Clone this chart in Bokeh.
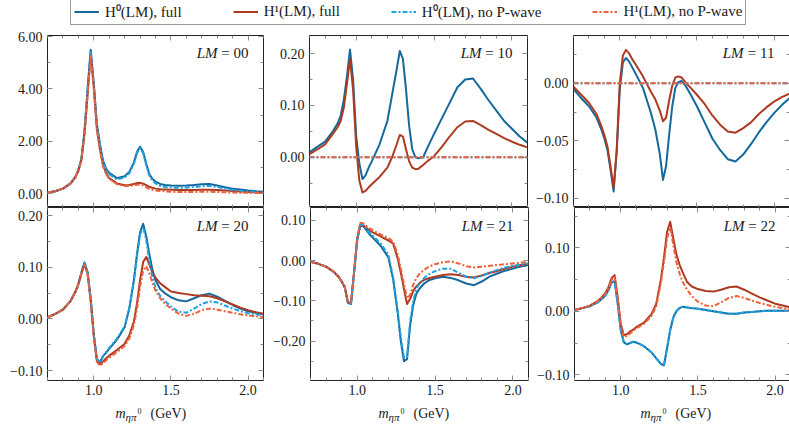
from bokeh.plotting import figure
from bokeh.models import (Range1d, SingleIntervalTicker, LinearAxis,
                          CustomJSTickFormatter, CustomLabelingPolicy,
                          Label, Legend, LegendItem)
from bokeh.layouts import column, row
from bokeh.embed import file_html
from bokeh.resources import INLINE

# ---------------- data ----------------
mass = [0.70, 0.75, 0.80, 0.85, 0.88, 0.90, 0.92, 0.94, 0.96, 0.98,
        1.00, 1.02, 1.04, 1.06, 1.08, 1.10, 1.15, 1.20, 1.23, 1.26,
        1.28, 1.30, 1.32, 1.34, 1.36, 1.38, 1.40, 1.43, 1.46, 1.50,
        1.55, 1.60, 1.65, 1.70, 1.75, 1.80, 1.85, 1.90, 1.95, 2.00,
        2.05, 2.10]

legend_labels = ["H\u2070(LM), full", "H\u00b9(LM), full",
                 "H\u2070(LM), no P-wave", "H\u00b9(LM), no P-wave"]
panel_names = ["00", "10", "11", "20", "21", "22"]
xlabel_parts = ["m", "\u03b7\u03c0", "0", "(GeV)"]

# LM = 00
h0_full_00 = [0.05, 0.10, 0.20, 0.40, 0.65, 0.90, 1.35, 2.40, 4.00, 5.50,
              4.20, 2.67, 1.90, 1.27, 0.95, 0.80, 0.60, 0.67, 0.83, 1.20,
              1.60, 1.80, 1.60, 1.15, 0.76, 0.57, 0.47, 0.38, 0.34, 0.32,
              0.31, 0.32, 0.34, 0.37, 0.38, 0.32, 0.25, 0.20, 0.17, 0.13,
              0.10, 0.08]
h1_full_00 = [0.05, 0.10, 0.20, 0.40, 0.63, 0.88, 1.30, 2.30, 3.80, 5.35,
              4.10, 2.50, 1.70, 1.10, 0.80, 0.60, 0.40, 0.33, 0.34, 0.38,
              0.41, 0.42, 0.39, 0.33, 0.27, 0.23, 0.20, 0.18, 0.17, 0.16,
              0.15, 0.15, 0.15, 0.16, 0.16, 0.15, 0.13, 0.11, 0.09, 0.07,
              0.06, 0.05]
h0_nop_00 = [0.05, 0.10, 0.20, 0.40, 0.65, 0.90, 1.35, 2.40, 4.00, 5.45,
             4.15, 2.62, 1.85, 1.22, 0.90, 0.75, 0.55, 0.62, 0.78, 1.15,
             1.55, 1.75, 1.55, 1.10, 0.70, 0.50, 0.40, 0.30, 0.26, 0.24,
             0.23, 0.24, 0.26, 0.29, 0.30, 0.26, 0.20, 0.15, 0.12, 0.09,
             0.07, 0.05]
h1_nop_00 = [0.05, 0.10, 0.20, 0.40, 0.63, 0.88, 1.30, 2.30, 3.80, 5.25,
             4.00, 2.45, 1.65, 1.05, 0.76, 0.57, 0.37, 0.30, 0.30, 0.33,
             0.35, 0.36, 0.32, 0.25, 0.19, 0.15, 0.13, 0.11, 0.10, 0.08,
             0.07, 0.07, 0.07, 0.08, 0.08, 0.07, 0.06, 0.05, 0.04, 0.04,
             0.03, 0.03]

# LM = 10
h0_full_10 = [0.010, 0.020, 0.030, 0.050, 0.065, 0.080, 0.110, 0.155, 0.208, 0.150,
              0.040, -0.012, -0.042, -0.035, -0.020, -0.008, 0.025, 0.070, 0.120, 0.170,
              0.205, 0.190, 0.130, 0.060, 0.015, 0.000, -0.002, 0.000, 0.020, 0.045,
              0.075, 0.105, 0.135, 0.150, 0.152, 0.132, 0.110, 0.090, 0.070, 0.055,
              0.040, 0.028]
h1_full_10 = [0.006, 0.015, 0.025, 0.045, 0.058, 0.070, 0.095, 0.140, 0.190, 0.130,
              0.020, -0.045, -0.068, -0.065, -0.058, -0.052, -0.038, -0.020, 0.000, 0.025,
              0.043, 0.040, 0.015, -0.008, -0.020, -0.023, -0.022, -0.015, -0.007, 0.002,
              0.020, 0.040, 0.058, 0.069, 0.070, 0.062, 0.053, 0.045, 0.037, 0.030,
              0.024, 0.019]
h0_nop_10 = [0.0, 0.0, 0.0, 0.0, 0.0, 0.0, 0.0, 0.0, 0.0, 0.0,
             0.0, 0.0, 0.0, 0.0, 0.0, 0.0, 0.0, 0.0, 0.0, 0.0,
             0.0, 0.0, 0.0, 0.0, 0.0, 0.0, 0.0, 0.0, 0.0, 0.0,
             0.0, 0.0, 0.0, 0.0, 0.0, 0.0, 0.0, 0.0, 0.0, 0.0,
             0.0, 0.0]
h1_nop_10 = [0.0, 0.0, 0.0, 0.0, 0.0, 0.0, 0.0, 0.0, 0.0, 0.0,
             0.0, 0.0, 0.0, 0.0, 0.0, 0.0, 0.0, 0.0, 0.0, 0.0,
             0.0, 0.0, 0.0, 0.0, 0.0, 0.0, 0.0, 0.0, 0.0, 0.0,
             0.0, 0.0, 0.0, 0.0, 0.0, 0.0, 0.0, 0.0, 0.0, 0.0,
             0.0, 0.0]

# LM = 11
h0_full_11 = [-0.005, -0.013, -0.020, -0.030, -0.040, -0.048, -0.058, -0.075, -0.094, -0.060,
              -0.005, 0.018, 0.022, 0.019, 0.014, 0.009, -0.004, -0.025, -0.040, -0.062,
              -0.084, -0.072, -0.045, -0.020, -0.004, 0.001, 0.002, -0.003, -0.010, -0.020,
              -0.034, -0.048, -0.058, -0.066, -0.068, -0.062, -0.053, -0.043, -0.034, -0.026,
              -0.019, -0.013]
h1_full_11 = [-0.003, -0.010, -0.017, -0.027, -0.037, -0.045, -0.055, -0.072, -0.091, -0.058,
              0.000, 0.024, 0.029, 0.026, 0.021, 0.017, 0.006, -0.007, -0.014, -0.024,
              -0.033, -0.030, -0.015, -0.002, 0.005, 0.006, 0.005, 0.000, -0.004, -0.010,
              -0.018, -0.028, -0.036, -0.042, -0.043, -0.039, -0.034, -0.027, -0.021, -0.016,
              -0.012, -0.009]
h0_nop_11 = [0.0, 0.0, 0.0, 0.0, 0.0, 0.0, 0.0, 0.0, 0.0, 0.0,
             0.0, 0.0, 0.0, 0.0, 0.0, 0.0, 0.0, 0.0, 0.0, 0.0,
             0.0, 0.0, 0.0, 0.0, 0.0, 0.0, 0.0, 0.0, 0.0, 0.0,
             0.0, 0.0, 0.0, 0.0, 0.0, 0.0, 0.0, 0.0, 0.0, 0.0,
             0.0, 0.0]
h1_nop_11 = [0.0, 0.0, 0.0, 0.0, 0.0, 0.0, 0.0, 0.0, 0.0, 0.0,
             0.0, 0.0, 0.0, 0.0, 0.0, 0.0, 0.0, 0.0, 0.0, 0.0,
             0.0, 0.0, 0.0, 0.0, 0.0, 0.0, 0.0, 0.0, 0.0, 0.0,
             0.0, 0.0, 0.0, 0.0, 0.0, 0.0, 0.0, 0.0, 0.0, 0.0,
             0.0, 0.0]

# LM = 20
h0_full_20 = [0.003, 0.010, 0.018, 0.035, 0.052, 0.067, 0.090, 0.109, 0.090, 0.040,
              -0.030, -0.078, -0.084, -0.072, -0.065, -0.058, -0.040, -0.016, 0.020, 0.075,
              0.125, 0.168, 0.184, 0.160, 0.125, 0.095, 0.075, 0.058, 0.050, 0.042,
              0.036, 0.034, 0.040, 0.046, 0.049, 0.043, 0.035, 0.027, 0.020, 0.015,
              0.012, 0.009]
h1_full_20 = [0.003, 0.010, 0.018, 0.035, 0.052, 0.067, 0.088, 0.107, 0.088, 0.035,
              -0.032, -0.080, -0.088, -0.082, -0.076, -0.071, -0.060, -0.048, -0.032, -0.005,
              0.030, 0.075, 0.110, 0.120, 0.105, 0.090, 0.080, 0.069, 0.062, 0.053,
              0.050, 0.048, 0.046, 0.045, 0.044, 0.040, 0.034, 0.028, 0.022, 0.017,
              0.013, 0.010]
h0_nop_20 = [0.003, 0.010, 0.018, 0.035, 0.052, 0.067, 0.090, 0.109, 0.090, 0.040,
             -0.030, -0.078, -0.084, -0.072, -0.064, -0.056, -0.038, -0.014, 0.020, 0.073,
             0.122, 0.163, 0.178, 0.152, 0.112, 0.080, 0.060, 0.045, 0.035, 0.024,
             0.014, 0.012, 0.020, 0.029, 0.034, 0.032, 0.026, 0.020, 0.015, 0.011,
             0.009, 0.007]
h1_nop_20 = [0.003, 0.010, 0.018, 0.035, 0.052, 0.067, 0.088, 0.105, 0.086, 0.033,
             -0.034, -0.083, -0.090, -0.086, -0.080, -0.075, -0.064, -0.052, -0.038, -0.012,
             0.020, 0.062, 0.093, 0.102, 0.088, 0.070, 0.055, 0.040, 0.030, 0.020,
             0.010, 0.006, 0.010, 0.017, 0.020, 0.018, 0.015, 0.012, 0.009, 0.007,
             0.005, 0.004]

# LM = 21
h0_full_21 = [-0.003, -0.008, -0.015, -0.028, -0.040, -0.052, -0.066, -0.105, -0.108, -0.030,
              0.050, 0.088, 0.085, 0.075, 0.065, 0.057, 0.037, 0.008, -0.045, -0.130,
              -0.200, -0.250, -0.245, -0.160, -0.110, -0.082, -0.070, -0.057, -0.049, -0.044,
              -0.040, -0.043, -0.049, -0.057, -0.061, -0.052, -0.040, -0.032, -0.025, -0.020,
              -0.015, -0.011]
h1_full_21 = [-0.003, -0.008, -0.015, -0.028, -0.040, -0.052, -0.066, -0.103, -0.105, -0.028,
              0.055, 0.090, 0.087, 0.081, 0.075, 0.070, 0.060, 0.050, 0.043, 0.005,
              -0.030, -0.070, -0.108, -0.095, -0.075, -0.064, -0.056, -0.048, -0.044, -0.040,
              -0.036, -0.034, -0.036, -0.040, -0.042, -0.037, -0.031, -0.026, -0.020, -0.015,
              -0.011, -0.008]
h0_nop_21 = [-0.003, -0.008, -0.015, -0.028, -0.040, -0.052, -0.066, -0.105, -0.108, -0.030,
             0.052, 0.090, 0.088, 0.078, 0.069, 0.062, 0.043, 0.015, -0.040, -0.125,
             -0.190, -0.240, -0.240, -0.150, -0.100, -0.070, -0.057, -0.043, -0.034, -0.026,
             -0.020, -0.020, -0.030, -0.040, -0.044, -0.038, -0.030, -0.023, -0.017, -0.013,
             -0.010, -0.007]
h1_nop_21 = [-0.003, -0.008, -0.015, -0.028, -0.040, -0.052, -0.066, -0.103, -0.105, -0.028,
             0.058, 0.094, 0.092, 0.086, 0.080, 0.075, 0.065, 0.056, 0.048, 0.015,
             -0.020, -0.058, -0.094, -0.085, -0.060, -0.043, -0.033, -0.023, -0.015, -0.009,
             -0.004, -0.002, -0.007, -0.014, -0.017, -0.015, -0.013, -0.011, -0.009, -0.007,
             -0.005, -0.004]

# LM = 22
h0_full_22 = [0.002, 0.005, 0.008, 0.014, 0.020, 0.025, 0.033, 0.045, 0.048, 0.012,
              -0.030, -0.049, -0.052, -0.050, -0.048, -0.049, -0.055, -0.065, -0.074, -0.083,
              -0.085, -0.058, -0.030, -0.010, 0.000, 0.005, 0.007, 0.006, 0.005, 0.004,
              0.002, 0.000, -0.002, -0.004, -0.004, -0.002, -0.001, 0.000, 0.001, 0.001,
              0.001, 0.001]
h1_full_22 = [0.002, 0.005, 0.009, 0.016, 0.023, 0.029, 0.038, 0.052, 0.057, 0.022,
              -0.020, -0.038, -0.036, -0.032, -0.029, -0.025, -0.018, -0.004, 0.012, 0.050,
              0.085, 0.125, 0.141, 0.115, 0.090, 0.074, 0.062, 0.046, 0.039, 0.035,
              0.032, 0.031, 0.034, 0.038, 0.039, 0.034, 0.028, 0.022, 0.017, 0.012,
              0.009, 0.006]
h0_nop_22 = [0.002, 0.005, 0.008, 0.014, 0.020, 0.025, 0.033, 0.045, 0.048, 0.012,
             -0.030, -0.049, -0.052, -0.050, -0.048, -0.049, -0.055, -0.065, -0.074, -0.083,
             -0.085, -0.058, -0.030, -0.010, 0.000, 0.005, 0.007, 0.006, 0.005, 0.004,
             0.002, 0.000, -0.002, -0.004, -0.004, -0.002, -0.001, 0.000, 0.001, 0.001,
             0.001, 0.001]
h1_nop_22 = [0.002, 0.005, 0.009, 0.016, 0.022, 0.028, 0.036, 0.050, 0.054, 0.020,
             -0.022, -0.040, -0.039, -0.035, -0.031, -0.027, -0.020, -0.007, 0.008, 0.045,
             0.078, 0.115, 0.132, 0.105, 0.078, 0.060, 0.047, 0.034, 0.024, 0.015,
             0.009, 0.008, 0.014, 0.021, 0.024, 0.021, 0.017, 0.013, 0.010, 0.007,
             0.005, 0.003]

series_by_panel = [
    (h0_full_00, h1_full_00, h0_nop_00, h1_nop_00),
    (h0_full_10, h1_full_10, h0_nop_10, h1_nop_10),
    (h0_full_11, h1_full_11, h0_nop_11, h1_nop_11),
    (h0_full_20, h1_full_20, h0_nop_20, h1_nop_20),
    (h0_full_21, h1_full_21, h0_nop_21, h1_nop_21),
    (h0_full_22, h1_full_22, h0_nop_22, h1_nop_22),
]

# ---------------- styling / layout ----------------
FONT = "Liberation Serif"
TEXT_C = "#1a1a1a"
TICK_C = "#8a8a8a"
STYLES = [("#13699b", None), ("#ae3a22", None),
          ("#1fa2e4", "5 2 2 2"), ("#ef603c", "5 2 2 2")]
YLIMS = [(-0.52, 6.04), (-0.097, 0.235), (-0.108, 0.0415),
         (-0.119, 0.2155), (-0.298, 0.132), (-0.109, 0.1635)]
YSTEPS = [2.0, 0.1, 0.05, 0.1, 0.1, 0.1]
X_RANGE = (0.7, 2.1)

TOTAL_W = 789
LEFT_B = [47, 39, 39]
FRAME_W = [216, 218, 216]
RIGHT_B = [7, 6, 1]
FRAME_H = [172, 173]
TOP_B = [4, 0]
BOTTOM_B = [0, 20]
LEGEND_H = 31
XLABEL_H = 25

YFMT = CustomJSTickFormatter(code=(
    "const v = Math.abs(tick) < 1e-9 ? 0 : tick;"
    "const s = Math.abs(v).toFixed(2);"
    "return (v < 0 ? '\\u2212' : '') + s;"))
XFMT = CustomJSTickFormatter(code="return tick.toFixed(1);")


def style_ticks(ax):
    ax.axis_line_color = None
    ax.major_tick_in = 5
    ax.major_tick_out = 0
    ax.minor_tick_in = 3
    ax.minor_tick_out = 0
    ax.major_tick_line_color = TICK_C
    ax.minor_tick_line_color = TICK_C
    ax.major_tick_line_width = 1
    ax.minor_tick_line_width = 1


def label_axis(ax, fmt, standoff):
    style_ticks(ax)
    ax.formatter = fmt
    ax.major_label_text_font = FONT
    ax.major_label_text_font_size = "14px"
    ax.major_label_text_color = TEXT_C
    ax.major_label_standoff = standoff


def tick_only_axis(ticker, loc):
    ax = LinearAxis(ticker=ticker, fixed_location=loc,
                    major_label_policy=CustomLabelingPolicy(code="return []"))
    style_ticks(ax)
    return ax


def make_panel(k):
    col, r = k % 3, k // 3
    ylim = YLIMS[k]
    p = figure(frame_width=FRAME_W[col], frame_height=FRAME_H[r],
               min_border_left=LEFT_B[col], min_border_right=RIGHT_B[col],
               min_border_top=TOP_B[r], min_border_bottom=BOTTOM_B[r],
               x_range=Range1d(*X_RANGE), y_range=Range1d(*ylim),
               x_axis_location=None, y_axis_location=None,
               output_backend="svg", toolbar_location=None,
               background_fill_color="white", border_fill_color="white")
    p.grid.visible = False
    p.outline_line_color = "#222222"
    p.outline_line_width = 1

    xt = SingleIntervalTicker(interval=0.5, num_minor_ticks=5)
    yt = SingleIntervalTicker(interval=YSTEPS[k], num_minor_ticks=2)

    left = LinearAxis(ticker=yt)
    label_axis(left, YFMT, 5)
    p.add_layout(left, "left")
    if r == 1:
        bottom = LinearAxis(ticker=xt)
        label_axis(bottom, XFMT, 4)
        p.add_layout(bottom, "below")
    else:
        p.add_layout(tick_only_axis(xt, ylim[0]), "below")
    p.add_layout(tick_only_axis(xt, ylim[1]), "above")
    p.add_layout(tick_only_axis(yt, X_RANGE[1]), "right")

    for ys, (color, dash) in zip(series_by_panel[k], STYLES):
        kw = dict(line_color=color, line_width=2, line_join="round")
        if dash:
            kw["line_dash"] = dash
        p.line(mass, ys, **kw)

    ytop = ylim[1]
    dy = -17 if r == 0 else -18
    p.add_layout(Label(x=X_RANGE[1], y=ytop, x_offset=-15, y_offset=dy,
                       text="= " + panel_names[k], text_align="right",
                       text_baseline="middle", text_font=FONT,
                       text_font_size="15px", text_color=TEXT_C))
    p.add_layout(Label(x=X_RANGE[1], y=ytop, x_offset=-46, y_offset=dy,
                       text="LM", text_align="right", text_baseline="middle",
                       text_font=FONT, text_font_style="italic",
                       text_font_size="15px", text_color=TEXT_C))
    return p


figs = [make_panel(k) for k in range(6)]

# ---------------- legend strip ----------------
leg = figure(width=TOTAL_W, height=LEGEND_H, x_range=Range1d(0, 1), y_range=Range1d(0, 1),
             output_backend="svg", toolbar_location=None,
             x_axis_location=None, y_axis_location=None, min_border=0,
             outline_line_color=None)
leg.grid.visible = False
items = []
for lab, (color, dash) in zip(legend_labels, STYLES):
    kw = dict(line_color=color, line_width=2)
    if dash:
        kw["line_dash"] = dash
    rr = leg.line(x=[-5, -4], y=[-5, -5], **kw)   # off-screen: only the legend swatch shows
    items.append(LegendItem(label=lab, renderers=[rr]))
legend = Legend(items=items, orientation="horizontal", location=(70, 6),
                padding=3, spacing=51, margin=0,
                glyph_width=25, glyph_height=17, label_height=17,
                label_standoff=6, label_text_font=FONT,
                label_text_font_size="15px", label_text_color=TEXT_C,
                border_line_color="#333333", border_line_width=1,
                background_fill_color="white", background_fill_alpha=1.0)
leg.add_layout(legend)

# ---------------- x-axis title strip ----------------
xl = figure(width=TOTAL_W, height=XLABEL_H, x_range=Range1d(0, TOTAL_W),
            y_range=Range1d(0, XLABEL_H), output_backend="svg", toolbar_location=None,
            x_axis_location=None, y_axis_location=None, min_border=0,
            outline_line_color=None)
xl.grid.visible = False
part_style = [(-40, 12, "14px", "italic"), (-30, 9, "11px", "italic"),
              (-18, 15, "8px", "normal"), (-5, 12, "14px", "normal")]
offset = 0
for col in range(3):
    cx = offset + LEFT_B[col] + FRAME_W[col] / 2
    for txt, (dx, by, size, fstyle) in zip(xlabel_parts, part_style):
        xl.add_layout(Label(x=cx + dx, y=by, text=txt, text_align="left",
                            text_baseline="alphabetic", text_font=FONT,
                            text_font_style=fstyle, text_font_size=size,
                            text_color=TEXT_C))
    offset += LEFT_B[col] + FRAME_W[col] + RIGHT_B[col]

layout = column(leg, row(*figs[:3]), row(*figs[3:]), xl)
open("out.html", "w", encoding="utf-8").write(file_html(layout, INLINE))
